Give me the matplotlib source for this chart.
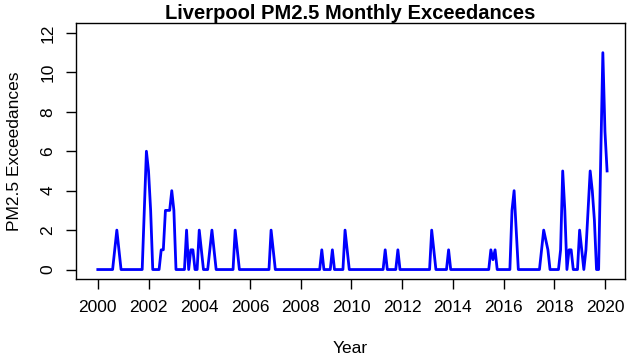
import numpy as np
import matplotlib
matplotlib.use("Agg")
import matplotlib.pyplot as plt

plt.rcParams['font.family'] = ['Liberation Sans', 'DejaVu Sans']

# monthly exceedance counts, one row per year (Jan..Dec)
years = list(range(2000, 2021))
exceed = [
    [0, 0, 0, 0, 0, 0, 0, 0, 1, 2, 1, 0],   # 2000
    [0, 0, 0, 0, 0, 0, 0, 0, 0, 0, 3, 6],   # 2001
    [5, 3, 0, 0, 0, 0, 1, 1, 3, 3, 3, 4],   # 2002
    [3, 0, 0, 0, 0, 0, 2, 0, 1, 1, 0, 0],   # 2003
    [2, 1, 0, 0, 0, 1, 2, 1, 0, 0, 0, 0],   # 2004
    [0, 0, 0, 0, 0, 2, 1, 0, 0, 0, 0, 0],   # 2005
    [0, 0, 0, 0, 0, 0, 0, 0, 0, 0, 2, 1],   # 2006
    [0, 0, 0, 0, 0, 0, 0, 0, 0, 0, 0, 0],   # 2007
    [0, 0, 0, 0, 0, 0, 0, 0, 0, 0, 1, 0],   # 2008
    [0, 0, 0, 1, 0, 0, 0, 0, 0, 2, 1, 0],   # 2009
    [0, 0, 0, 0, 0, 0, 0, 0, 0, 0, 0, 0],   # 2010
    [0, 0, 0, 0, 1, 0, 0, 0, 0, 0, 1, 0],   # 2011
    [0, 0, 0, 0, 0, 0, 0, 0, 0, 0, 0, 0],   # 2012
    [0, 0, 2, 1, 0, 0, 0, 0, 0, 0, 1, 0],   # 2013
    [0, 0, 0, 0, 0, 0, 0, 0, 0, 0, 0, 0],   # 2014
    [0, 0, 0, 0, 0, 0, 1, 0.5, 1, 0, 0, 0], # 2015
    [0, 0, 0, 0, 3, 4, 2, 0, 0, 0, 0, 0],   # 2016
    [0, 0, 0, 0, 0, 0, 1, 2, 1.5, 1, 0, 0], # 2017
    [0, 0, 0, 1, 5, 3, 0, 1, 1, 0, 0, 0],   # 2018
    [2, 1, 0, 1, 3, 5, 4, 2.5, 0, 0, 5.7, 11],  # 2019
    [7, 5],                                 # 2020
]

x = []
y = []
for yr, row in zip(years, exceed):
    for m, v in enumerate(row):
        x.append(yr + m / 12.0)
        y.append(v)

fig = plt.figure(figsize=(6.36, 3.63), dpi=100)
ax = fig.add_axes([0.1195, 0.2314, 0.8632, 0.7039])
ax.plot(x, y, color='blue', lw=2)

ax.set_xlim(1999.14, 2020.79)
ax.set_ylim(-0.48, 12.48)
ax.set_xticks(range(2000, 2021, 2))
ax.set_yticks(range(0, 13, 2))
ax.set_yticklabels([str(v) for v in range(0, 13, 2)], rotation=90, va='center')
ax.tick_params(direction='out', length=7, width=1, labelsize=12.5, pad=8, color='black')
for s in ax.spines.values():
    s.set_linewidth(1)

ax.set_xlabel('Year', fontsize=12.5, labelpad=19)
ax.set_ylabel('PM2.5 Exceedances', fontsize=12.5, labelpad=13)
ax.set_title('Liverpool PM2.5 Monthly Exceedances', fontsize=14.5, fontweight='bold', pad=2)

fig.savefig('out.png', dpi=100)
plt.close()
